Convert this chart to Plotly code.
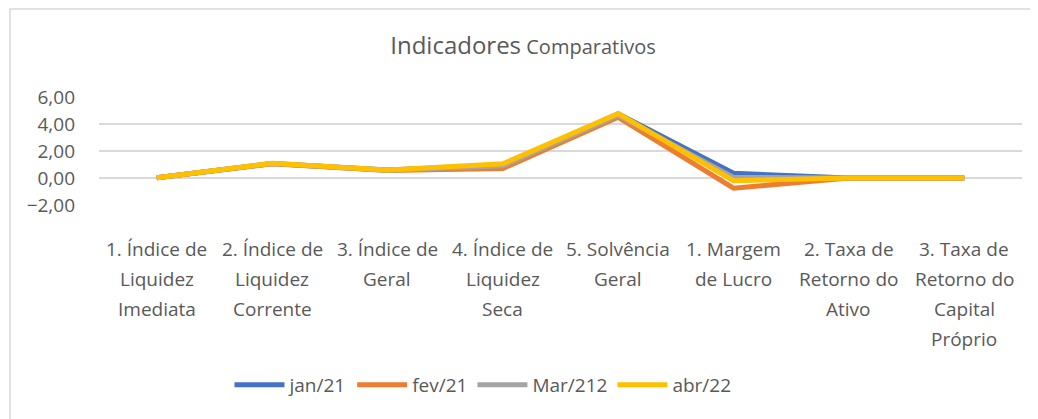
import plotly.graph_objects as go

categorias = [
    "1. Índice de<br>Liquidez<br>Imediata",
    "2. Índice de<br>Liquidez<br>Corrente",
    "3. Índice de<br>Geral",
    "4. Índice de<br>Liquidez<br>Seca",
    "5. Solvência<br>Geral",
    "1. Margem<br>de Lucro",
    "2. Taxa de<br>Retorno do<br>Ativo",
    "3. Taxa de<br>Retorno do<br>Capital<br>Próprio",
]

jan21 = [0.02, 1.08, 0.60, 0.95, 4.75, 0.35, 0.0, 0.0]
fev21 = [0.02, 1.05, 0.55, 0.70, 4.50, -0.75, 0.0, 0.0]
mar212 = [0.02, 1.07, 0.58, 0.90, 4.65, 0.05, 0.0, 0.0]
abr22 = [0.02, 1.10, 0.60, 1.05, 4.78, -0.20, 0.0, 0.0]

series = [
    ("jan/21", jan21, "#4472C4"),
    ("fev/21", fev21, "#ED7D31"),
    ("Mar/212", mar212, "#A5A5A5"),
    ("abr/22", abr22, "#FFC000"),
]

FONTE = "Open Sans"
COR_TEXTO = "#595959"

fig = go.Figure()
for nome, valores, cor in series:
    fig.add_trace(go.Scatter(
        x=categorias, y=valores, name=nome, mode="lines",
        line=dict(color=cor, width=5),
    ))

# category labels: one annotation per line, for Excel-like line spacing
for cat in categorias:
    for i, linha in enumerate(cat.split("<br>")):
        fig.add_annotation(
            x=cat, xref="x", y=0, yref="paper",
            text=linha, showarrow=False,
            yanchor="middle", yshift=-44 - 30 * i,
            font=dict(family=FONTE, size=19, color=COR_TEXTO),
        )

# page body has 8px margin
W, H = 1030, 411
ml, mr, mt, mb = 91, 16, 89, 214

fig.update_layout(
    width=W, height=H,
    margin=dict(l=ml, r=mr, t=mt, b=mb),
    paper_bgcolor="white", plot_bgcolor="white",
    separators=",.",
    font=dict(family=FONTE, size=19, color=COR_TEXTO),
    title=dict(
        text="<span style='font-size:24px'>Indicadores</span> Comparativos",
        x=0.5, xanchor="center", y=0.905, yanchor="middle",
        font=dict(family=FONTE, size=20, color=COR_TEXTO),
    ),
    xaxis=dict(
        range=[-0.5, len(categorias) - 0.5],
        showgrid=False, showline=False, ticks="", showticklabels=False,
    ),
    yaxis=dict(
        range=[-2, 6], dtick=2, tickformat=".2f",
        showgrid=True, gridcolor="#D9D9D9", gridwidth=1.5,
        zeroline=False, showline=False, ticks="",
        ticklabelstandoff=23,
        tickfont=dict(family=FONTE, size=19, color=COR_TEXTO),
    ),
    legend=dict(
        orientation="h", x=0.416, xanchor="center", y=-1.665, yanchor="middle",
        font=dict(family=FONTE, size=19, color=COR_TEXTO), itemwidth=50,
        traceorder="normal",
    ),
    showlegend=True,
)

pw = W - ml - mr
ph = H - mt - mb
fig.add_shape(
    type="rect", xref="paper", yref="paper",
    x0=-(ml - 2) / pw, x1=1 + (mr + 20) / pw,
    y0=-(mb + 20) / ph, y1=1 + (mt - 1) / ph,
    line=dict(color="#D9D9D9", width=1.5),
)

fig.write_html("out.html")
